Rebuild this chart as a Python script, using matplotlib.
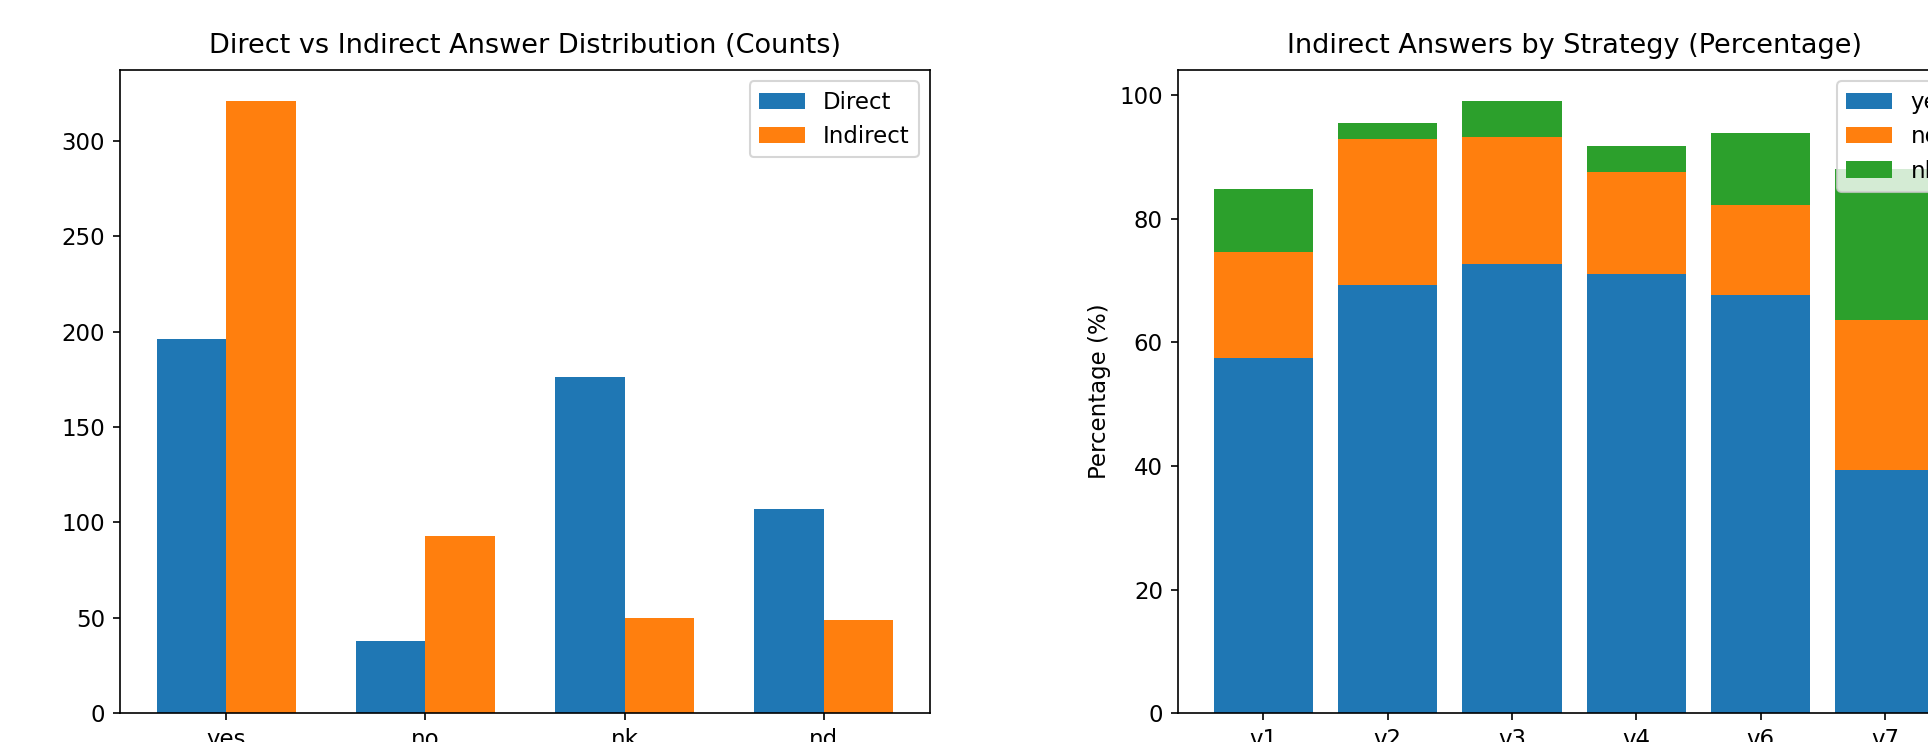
import matplotlib
matplotlib.use("Agg")
import matplotlib.pyplot as plt
import numpy as np

# Left chart data
answer_types = ["yes", "no", "nk", "nd"]
direct_counts = [196, 38, 176, 107]
indirect_counts = [321, 93, 50, 49]

# Right chart data
strategies = ["v1", "v2", "v3", "v4", "v6", "v7"]
pct_yes = [57.5, 69.3, 72.6, 71.0, 67.6, 39.4]
pct_no = [17.1, 23.6, 20.6, 16.6, 14.6, 24.2]
pct_nk = [10.2, 2.6, 5.9, 4.2, 11.6, 24.5]

plt.rcParams["font.size"] = 11
W, H, DPI = 1928, 742, 150
fig = plt.figure(figsize=(W / DPI, H / DPI), dpi=DPI)

ax1 = fig.add_axes([119.7 / W, (H - 713.2) / H, 810.6 / W, 643.2 / H])
ax2 = fig.add_axes([1177.5 / W, (H - 713.2) / H, 793.2 / W, 643.2 / H])

x = np.arange(len(answer_types))
w = 0.35
ax1.bar(x - w / 2, direct_counts, w, label="Direct")
ax1.bar(x + w / 2, indirect_counts, w, label="Indirect")
ax1.set_xticks(x)
ax1.set_xticklabels(answer_types)
ax1.set_title("Direct vs Indirect Answer Distribution (Counts)", fontsize=13, pad=8)
ax1.legend(loc="upper right")

xs = np.arange(len(strategies))
yes_arr = np.array(pct_yes)
no_arr = np.array(pct_no)
nk_arr = np.array(pct_nk)
ax2.bar(xs, yes_arr, 0.8, label="yes")
ax2.bar(xs, no_arr, 0.8, bottom=yes_arr, label="no")
ax2.bar(xs, nk_arr, 0.8, bottom=yes_arr + no_arr, label="nk")
ax2.set_xticks(xs)
ax2.set_xticklabels(strategies)
ax2.set_ylabel("Percentage (%)")
ax2.set_title("Indirect Answers by Strategy (Percentage)", fontsize=13, pad=8)
ax2.legend(loc="upper right")

fig.savefig("out.png", dpi=DPI)
